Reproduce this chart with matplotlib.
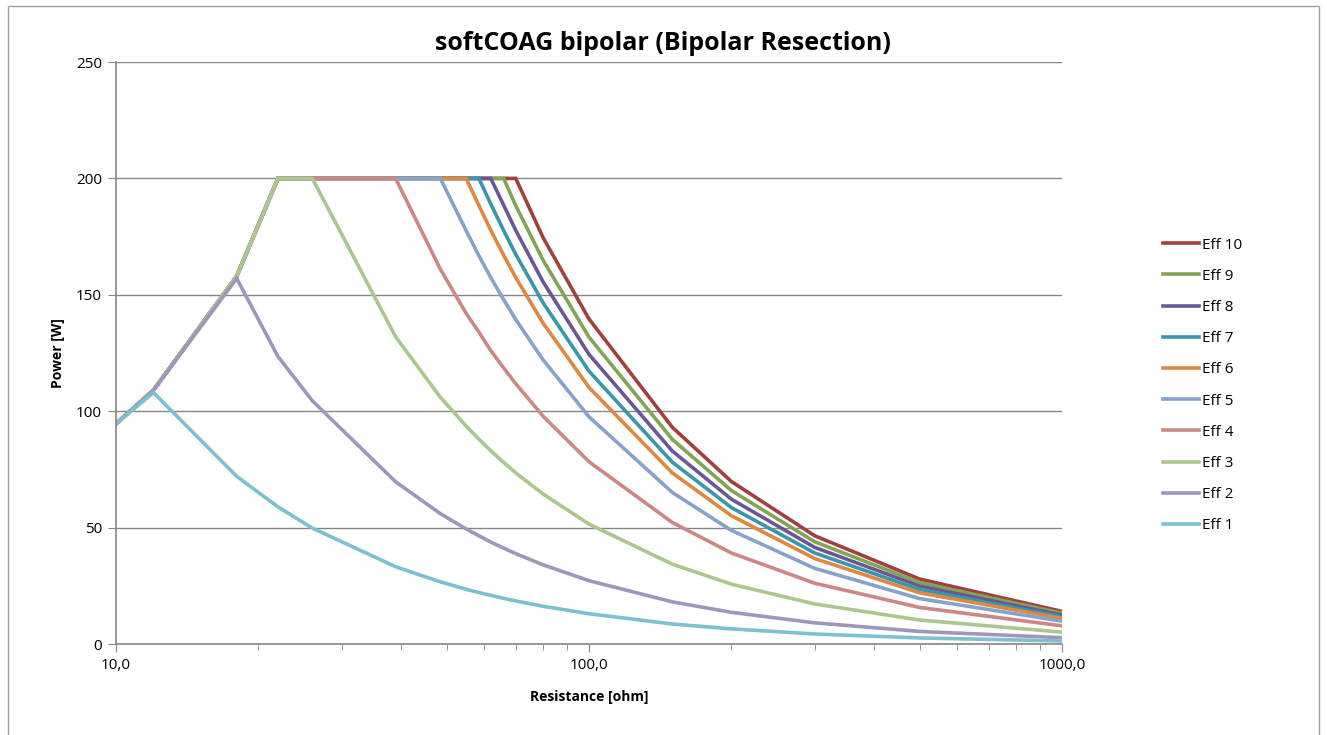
import matplotlib
matplotlib.use("Agg")
import matplotlib.pyplot as plt
from matplotlib.ticker import FixedLocator, LogLocator, NullFormatter
from matplotlib.patches import Rectangle

plt.rcParams['font.family'] = ['Open Sans', 'DejaVu Sans']

# --- data ---
resistance = [10, 12, 18, 22, 26, 39, 48.5, 55, 58.5, 62, 66, 70, 80, 100, 150, 200, 300, 500, 1000]

eff1 = [94.6, 108, 72, 58.9, 49.8, 33.2, 26.7, 23.5, 22.1, 20.9, 19.6, 18.5, 16.2, 13.0, 8.6, 6.5, 4.3, 2.6, 1.3]
eff2 = [94.6, 109, 157, 123.5, 104.5, 69.7, 56, 49.4, 46.5, 43.8, 41.2, 38.8, 34, 27.2, 18.1, 13.6, 9.1, 5.4, 2.7]
eff3 = [94.6, 109, 158, 200, 200, 132, 106, 93.6, 88, 83, 78, 73.5, 64.4, 51.5, 34.3, 25.7, 17.2, 10.3, 5.1]
eff4 = [94.6, 109, 158, 200, 200, 200, 161, 142, 134, 126, 118.6, 111.8, 97.8, 78.3, 52.2, 39.1, 26.1, 15.7, 7.8]
eff5 = [94.6, 109, 158, 200, 200, 200, 200, 177.5, 166.8, 157.4, 147.9, 139.4, 122, 97.6, 65.1, 48.8, 32.5, 19.5, 9.8]
eff6 = [94.6, 109, 158, 200, 200, 200, 200, 200, 188.4, 177.7, 167, 157.4, 137.8, 110.2, 73.5, 55.1, 36.7, 22, 11]
eff7 = [94.6, 109, 158, 200, 200, 200, 200, 200, 200, 189, 177.6, 167.4, 146.5, 117.2, 78.1, 58.6, 39.1, 23.4, 11.7]
eff8 = [94.6, 109, 158, 200, 200, 200, 200, 200, 200, 200, 188.5, 177.7, 155.5, 124.4, 82.9, 62.2, 41.5, 24.9, 12.4]
eff9 = [94.6, 109, 158, 200, 200, 200, 200, 200, 200, 200, 200, 188.3, 164.8, 131.8, 87.9, 65.9, 43.9, 26.4, 13.2]
eff10 = [94.6, 109, 158, 200, 200, 200, 200, 200, 200, 200, 200, 200, 174.5, 139.6, 93.1, 69.8, 46.5, 27.9, 14.0]

labels = ["Eff 10", "Eff 9", "Eff 8", "Eff 7", "Eff 6", "Eff 5", "Eff 4", "Eff 3", "Eff 2", "Eff 1"]
series = [eff10, eff9, eff8, eff7, eff6, eff5, eff4, eff3, eff2, eff1]
colors = ["#A33F3D", "#82A553", "#6A5797", "#3797AD", "#E0883F",
          "#86A3CD", "#CD8886", "#AAC88D", "#A096BC", "#7BC1D0"]

fig = plt.figure(figsize=(13.27, 7.35), dpi=100)
ax = fig.add_axes([116 / 1327, 1 - 644 / 735, (1062 - 116) / 1327, (644 - 62) / 735])

# outer chart frame
fig.patches.append(Rectangle((8 / 1327, -0.01), (1319 - 8) / 1327, 1 - 6 / 735 + 0.01,
                             transform=fig.transFigure, fill=False,
                             edgecolor="#A0A0A0", linewidth=1.0))

for vals, lab, c in zip(series, labels, colors):
    ax.plot(resistance, vals, color=c, linewidth=2.6, label=lab, solid_joinstyle="miter")

ax.set_xscale("log")
ax.set_xlim(10, 1000)
ax.set_ylim(0, 250)

ax.xaxis.set_major_locator(FixedLocator([10, 100, 1000]))
ax.set_xticklabels(["10,0", "100,0", "1000,0"])
ax.xaxis.set_minor_locator(LogLocator(base=10, subs=range(2, 10)))
ax.xaxis.set_minor_formatter(NullFormatter())
ax.set_yticks([0, 50, 100, 150, 200, 250])

ax.grid(axis="y", color="#868686", linewidth=1.0)
ax.set_axisbelow(True)
for s in ["top", "right"]:
    ax.spines[s].set_visible(False)
for s in ["left", "bottom"]:
    ax.spines[s].set_color("#868686")
    ax.spines[s].set_linewidth(1.2)

ax.tick_params(axis="both", which="major", direction="out", length=6, color="#868686",
               labelsize=11, pad=4)
ax.tick_params(axis="x", which="minor", direction="out", length=4, color="#868686")

ax.set_xlabel("Resistance [ohm]", fontsize=10, fontweight="bold", labelpad=12)
ax.set_ylabel("Power [W]", fontsize=10, fontweight="bold", labelpad=8)

fig.text(663 / 1327, 1 - 43 / 735, "softCOAG bipolar (Bipolar Resection)",
         ha="center", va="center", fontsize=18, fontweight="bold")

ax.legend(loc="upper left", bbox_to_anchor=(1155 / 1327, 1 - 230 / 735),
          bbox_transform=fig.transFigure, frameon=False, fontsize=11,
          labelspacing=1.06, handlelength=2.4, handletextpad=0.2, borderpad=0)

fig.savefig("out.png", dpi=100)
